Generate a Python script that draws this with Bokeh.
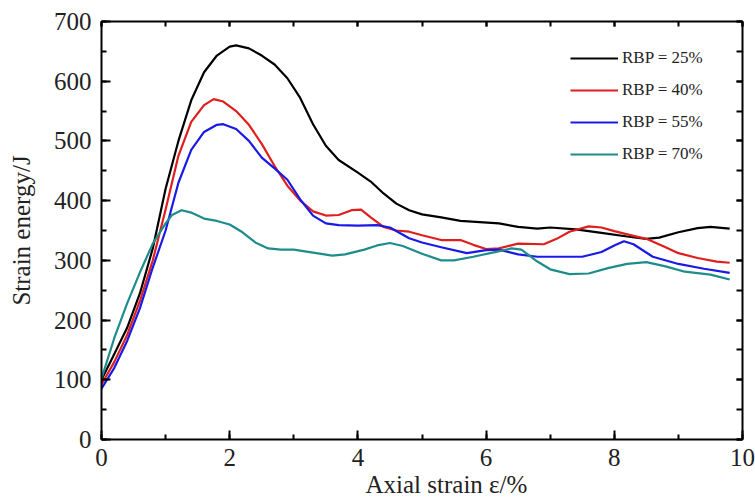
from bokeh.plotting import figure
from bokeh.models import (LinearAxis, Range1d, SingleIntervalTicker, Legend, LegendItem, Title,
                          CustomLabelingPolicy)
from bokeh.embed import file_html
from bokeh.resources import INLINE

# ---- data ----
x_25 = [0, 0.2, 0.4, 0.6, 0.8, 1.0, 1.2, 1.4, 1.6, 1.8, 2.0, 2.1, 2.3, 2.5, 2.7, 2.9, 3.1, 3.3, 3.5, 3.7,
        4.0, 4.2, 4.4, 4.6, 4.8, 5.0, 5.3, 5.6, 5.9, 6.2, 6.5, 6.8, 7.0, 7.4, 7.8, 8.2, 8.5, 8.7, 9.0, 9.3, 9.5, 9.8]
y_25 = [100, 143, 187, 245, 320, 420, 500, 568, 615, 643, 658, 660, 655, 643, 628, 605, 572, 528, 492, 468,
        447, 432, 412, 395, 384, 377, 372, 366, 364, 362, 356, 353, 355, 352, 346, 340, 336, 338, 347, 354, 356, 353]

x_40 = [0, 0.2, 0.4, 0.6, 0.8, 1.0, 1.2, 1.4, 1.6, 1.75, 1.9, 2.1, 2.3, 2.5, 2.7, 2.9, 3.1, 3.3, 3.5, 3.7,
        3.9, 4.05, 4.2, 4.4, 4.6, 4.8, 5.0, 5.3, 5.6, 5.8, 6.0, 6.2, 6.5, 6.9, 7.1, 7.3, 7.6, 7.8, 8.0, 8.3,
        8.5, 8.8, 9.0, 9.3, 9.6, 9.8]
y_40 = [92, 130, 175, 232, 300, 385, 475, 532, 560, 570, 566, 550, 527, 495, 458, 425, 400, 382, 375, 376,
        384, 385, 372, 356, 350, 348, 342, 334, 334, 326, 319, 320, 328, 327, 336, 348, 357, 355, 349, 341,
        336, 322, 312, 304, 298, 296]

x_55 = [0, 0.2, 0.4, 0.6, 0.8, 1.0, 1.2, 1.4, 1.6, 1.8, 1.9, 2.1, 2.3, 2.5, 2.7, 2.9, 3.1, 3.3, 3.5, 3.7,
        4.0, 4.3, 4.5, 4.8, 5.0, 5.3, 5.7, 6.0, 6.2, 6.5, 6.8, 7.2, 7.5, 7.8, 8.0, 8.15, 8.3, 8.6, 9.0, 9.4, 9.8]
y_55 = [85, 120, 165, 220, 288, 350, 430, 485, 515, 527, 528, 520, 500, 472, 454, 435, 402, 375, 362, 359,
        358, 359, 355, 337, 330, 322, 312, 317, 318, 310, 306, 306, 306, 314, 325, 332, 327, 306, 294, 286, 279]

x_70 = [0, 0.2, 0.4, 0.6, 0.8, 1.0, 1.1, 1.25, 1.4, 1.6, 1.8, 2.0, 2.2, 2.4, 2.6, 2.8, 3.0, 3.3, 3.6, 3.8,
        4.1, 4.3, 4.5, 4.7, 5.0, 5.3, 5.5, 5.8, 6.1, 6.4, 6.55, 6.8, 7.0, 7.3, 7.6, 7.9, 8.2, 8.5, 8.8, 9.1, 9.5, 9.8]
y_70 = [102, 170, 228, 280, 328, 362, 376, 384, 380, 370, 366, 360, 347, 330, 320, 318, 318, 313, 308, 310,
        318, 325, 329, 324, 311, 300, 300, 306, 313, 320, 318, 298, 285, 277, 278, 287, 294, 297, 290, 281, 276, 268]

labels = ["RBP = 25%", "RBP = 40%", "RBP = 55%", "RBP = 70%"]
colors = ["#000000", "#e01e1e", "#1a1ae6", "#1f8c8c"]

x_label = "Axial strain \u03b5/%"
y_label = "Strain energy/J"

SERIF = "Liberation Serif"

p = figure(width=755, height=497, output_backend="svg", toolbar_location=None,
           x_range=Range1d(0, 10), y_range=Range1d(0, 700),
           min_border_left=101, min_border_right=13, min_border_top=21, min_border_bottom=58,
           x_axis_location=None, y_axis_location=None)
p.grid.visible = False
p.outline_line_color = None
p.background_fill_color = "white"
p.border_fill_color = "white"

def style_axis(ax, ticker, show_labels):
    ax.ticker = ticker
    ax.axis_line_width = 2
    ax.axis_line_color = "black"
    ax.major_tick_in = 9
    ax.major_tick_out = 0
    ax.minor_tick_in = 5
    ax.minor_tick_out = 0
    ax.major_tick_line_width = 2
    ax.minor_tick_line_width = 2
    ax.major_tick_line_color = "black"
    ax.minor_tick_line_color = "black"
    if show_labels:
        ax.major_label_text_font = SERIF
        ax.major_label_text_font_size = "25px"
        ax.major_label_text_color = "#222222"
        ax.major_label_standoff = 10
    else:
        ax.major_label_text_font_size = "0px"
        ax.major_label_standoff = 0
        ax.major_label_policy = CustomLabelingPolicy(
            code="for (const i of Array.from(indices)) { indices.unset(i) } return indices")

xt = lambda: SingleIntervalTicker(interval=2, num_minor_ticks=2)
yt = lambda: SingleIntervalTicker(interval=100, num_minor_ticks=2)

bottom = LinearAxis()
style_axis(bottom, xt(), True)
bottom.major_label_standoff = 9
p.add_layout(bottom, "below")

xtitle = Title(text=x_label, align="left", offset=264, standoff=0,
               text_font=SERIF, text_font_size="25px", text_font_style="normal",
               text_color="#222222")
p.add_layout(xtitle, "below")

left = LinearAxis(axis_label=y_label)
style_axis(left, yt(), True)
left.axis_label_text_font = SERIF
left.axis_label_text_font_size = "25px"
left.axis_label_text_font_style = "normal"
left.axis_label_text_color = "#222222"
left.axis_label_standoff = 16
p.add_layout(left, "left")

top = LinearAxis()
style_axis(top, xt(), False)
top.major_tick_in = 5
p.add_layout(top, "above")

right = LinearAxis()
style_axis(right, yt(), False)
right.major_tick_in = 6
right.minor_tick_in = 6
p.add_layout(right, "right")

xs = [x_25, x_40, x_55, x_70]
ys = [y_25, y_40, y_55, y_70]
renderers = []
for xx, yy, c in zip(xs, ys, colors):
    r = p.line(xx, yy, line_color=c, line_width=2.2, line_join="round")
    renderers.append(r)

legend = Legend(items=[LegendItem(label=l, renderers=[r]) for l, r in zip(labels, renderers)],
                location=(469, 275), orientation="vertical",
                glyph_width=48, glyph_height=20, label_height=20, spacing=12,
                label_standoff=4, padding=0, margin=0,
                label_text_font=SERIF, label_text_font_size="17px", label_text_color="#222222",
                border_line_color=None, background_fill_alpha=0)
p.add_layout(legend, "center")

open("out.html", "w").write(file_html(p, INLINE))
